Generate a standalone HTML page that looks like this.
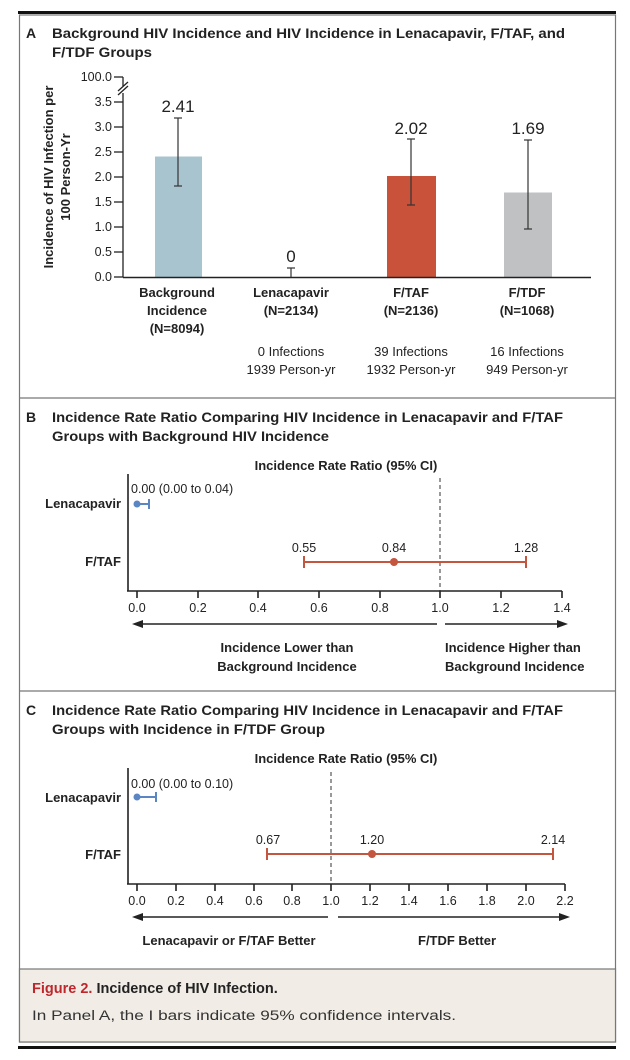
<!DOCTYPE html>
<html><head><meta charset="utf-8"><style>
html,body{margin:0;padding:0;background:#fff;}
svg{display:block;font-family:"Liberation Sans",sans-serif;}
.t{font-weight:bold;font-size:14px;fill:#222;}
.b{font-weight:bold;font-size:13px;fill:#222;}
.n{font-size:13px;fill:#222;}
.k{font-size:12.5px;fill:#222;}
</style></head><body>
<svg width="630" height="1060" viewBox="0 0 630 1060">
<rect x="18" y="11" width="598" height="3" fill="#111"/>
<rect x="19.5" y="15" width="596" height="1027" fill="none" stroke="#777" stroke-width="1.2"/>
<line x1="19" y1="398" x2="616" y2="398" stroke="#777" stroke-width="1.2"/>
<line x1="19" y1="691" x2="616" y2="691" stroke="#777" stroke-width="1.2"/>
<rect x="19.5" y="969" width="596" height="73" fill="#f1ede6" stroke="#777" stroke-width="1.2"/>
<rect x="18" y="1046" width="598" height="3" fill="#111"/>

<!-- Panel A -->
<text x="26" y="38" class="t" font-size="15">A</text>
<text x="52" y="38" class="t" textLength="513" lengthAdjust="spacingAndGlyphs">Background HIV Incidence and HIV Incidence in Lenacapavir, F/TAF, and</text>
<text x="52" y="57" class="t" textLength="100" lengthAdjust="spacingAndGlyphs">F/TDF Groups</text>
<g transform="translate(53,177) rotate(-90)"><text x="0" y="0" class="b" text-anchor="middle">Incidence of HIV Infection per</text><text x="0" y="17" class="b" text-anchor="middle">100 Person-Yr</text></g>
<g class="k" text-anchor="end">
<text x="112" y="81">100.0</text>
<text x="112" y="106">3.5</text><text x="112" y="131">3.0</text><text x="112" y="156">2.5</text><text x="112" y="181">2.0</text>
<text x="112" y="206">1.5</text><text x="112" y="231">1.0</text><text x="112" y="256">0.5</text><text x="112" y="281">0.0</text>
</g>
<g stroke="#222" stroke-width="1.3">
<line x1="114" y1="77" x2="123" y2="77"/><line x1="123" y1="77" x2="123" y2="86"/>
<line x1="123" y1="93" x2="123" y2="277"/>
<line x1="118" y1="91" x2="128" y2="82"/><line x1="118" y1="95" x2="128" y2="86"/>
<line x1="114" y1="102" x2="123" y2="102"/><line x1="114" y1="127" x2="123" y2="127"/><line x1="114" y1="152" x2="123" y2="152"/>
<line x1="114" y1="177" x2="123" y2="177"/><line x1="114" y1="202" x2="123" y2="202"/><line x1="114" y1="227" x2="123" y2="227"/>
<line x1="114" y1="252" x2="123" y2="252"/><line x1="114" y1="277" x2="123" y2="277"/>
</g>
<rect x="155" y="156.5" width="47" height="120.5" fill="#a8c4cf"/>
<rect x="387" y="176" width="49" height="101" fill="#c8523a"/>
<rect x="504" y="192.5" width="48" height="84.5" fill="#bfc1c3"/>
<line x1="123" y1="277.5" x2="591" y2="277.5" stroke="#222" stroke-width="1.6"/>
<g stroke="#333" stroke-width="1.2">
<line x1="178" y1="118" x2="178" y2="186"/><line x1="174" y1="118" x2="182" y2="118"/><line x1="174" y1="186" x2="182" y2="186"/>
<line x1="291" y1="268" x2="291" y2="277"/><line x1="287" y1="268" x2="295" y2="268"/>
<line x1="411" y1="139" x2="411" y2="205"/><line x1="407" y1="139" x2="415" y2="139"/><line x1="407" y1="205" x2="415" y2="205"/>
<line x1="528" y1="140" x2="528" y2="229"/><line x1="524" y1="140" x2="532" y2="140"/><line x1="524" y1="229" x2="532" y2="229"/>
</g>
<g font-size="17" fill="#222" text-anchor="middle">
<text x="178" y="112">2.41</text><text x="291" y="262">0</text><text x="411" y="134">2.02</text><text x="528" y="134">1.69</text>
</g>
<g class="b" text-anchor="middle">
<text x="177" y="297">Background</text><text x="177" y="315">Incidence</text><text x="177" y="333">(N=8094)</text>
<text x="291" y="297">Lenacapavir</text><text x="291" y="315">(N=2134)</text>
<text x="411" y="297">F/TAF</text><text x="411" y="315">(N=2136)</text>
<text x="527" y="297">F/TDF</text><text x="527" y="315">(N=1068)</text>
</g>
<g class="n" text-anchor="middle">
<text x="291" y="356">0 Infections</text><text x="291" y="374">1939 Person-yr</text>
<text x="411" y="356">39 Infections</text><text x="411" y="374">1932 Person-yr</text>
<text x="527" y="356">16 Infections</text><text x="527" y="374">949 Person-yr</text>
</g>

<!-- Panel B -->
<text x="26" y="422" class="t" font-size="15">B</text>
<text x="52" y="422" class="t" textLength="511" lengthAdjust="spacingAndGlyphs">Incidence Rate Ratio Comparing HIV Incidence in Lenacapavir and F/TAF</text>
<text x="52" y="441" class="t" textLength="277" lengthAdjust="spacingAndGlyphs">Groups with Background HIV Incidence</text>
<text x="346" y="470" class="b" text-anchor="middle">Incidence Rate Ratio (95% CI)</text>
<text x="121" y="508" class="b" text-anchor="end">Lenacapavir</text>
<text x="121" y="566" class="b" text-anchor="end">F/TAF</text>
<line x1="440" y1="478" x2="440" y2="591" stroke="#333" stroke-dasharray="4,3"/>
<g stroke="#222" stroke-width="1.6">
<line x1="128" y1="474" x2="128" y2="591"/><line x1="127" y1="591" x2="562" y2="591"/>
<line x1="137" y1="591" x2="137" y2="598"/><line x1="198" y1="591" x2="198" y2="598"/><line x1="258" y1="591" x2="258" y2="598"/>
<line x1="319" y1="591" x2="319" y2="598"/><line x1="380" y1="591" x2="380" y2="598"/><line x1="440" y1="591" x2="440" y2="598"/>
<line x1="501" y1="591" x2="501" y2="598"/><line x1="562" y1="591" x2="562" y2="598"/>
</g>
<g class="k" text-anchor="middle">
<text x="137" y="612">0.0</text><text x="198" y="612">0.2</text><text x="258" y="612">0.4</text><text x="319" y="612">0.6</text>
<text x="380" y="612">0.8</text><text x="440" y="612">1.0</text><text x="501" y="612">1.2</text><text x="562" y="612">1.4</text>
</g>
<text x="131" y="493" class="k">0.00 (0.00 to 0.04)</text>
<g stroke="#5b86c4" stroke-width="2"><line x1="137" y1="504" x2="149" y2="504"/><line x1="149" y1="499" x2="149" y2="509"/></g>
<circle cx="137" cy="504" r="3.5" fill="#5b86c4"/>
<g stroke="#c4553f" stroke-width="2"><line x1="304" y1="562" x2="526" y2="562"/><line x1="304" y1="556" x2="304" y2="568"/><line x1="526" y1="556" x2="526" y2="568"/></g>
<circle cx="394" cy="562" r="4" fill="#c4553f"/>
<g class="k" text-anchor="middle"><text x="304" y="552">0.55</text><text x="394" y="552">0.84</text><text x="526" y="552">1.28</text></g>
<g stroke="#222" stroke-width="1.6"><line x1="138" y1="624" x2="437" y2="624"/><line x1="445" y1="624" x2="562" y2="624"/></g>
<polygon points="132,624 143,620 143,628" fill="#222"/><polygon points="568,624 557,620 557,628" fill="#222"/>
<g class="b" text-anchor="middle"><text x="287" y="652">Incidence Lower than</text><text x="287" y="671">Background Incidence</text></g>
<g class="b"><text x="445" y="652">Incidence Higher than</text><text x="445" y="671">Background Incidence</text></g>

<!-- Panel C -->
<text x="26" y="715" class="t" font-size="15">C</text>
<text x="52" y="715" class="t" textLength="511" lengthAdjust="spacingAndGlyphs">Incidence Rate Ratio Comparing HIV Incidence in Lenacapavir and F/TAF</text>
<text x="52" y="734" class="t" textLength="273" lengthAdjust="spacingAndGlyphs">Groups with Incidence in F/TDF Group</text>
<text x="346" y="763" class="b" text-anchor="middle">Incidence Rate Ratio (95% CI)</text>
<text x="121" y="802" class="b" text-anchor="end">Lenacapavir</text>
<text x="121" y="859" class="b" text-anchor="end">F/TAF</text>
<line x1="331" y1="772" x2="331" y2="884" stroke="#333" stroke-dasharray="4,3"/>
<g stroke="#222" stroke-width="1.6">
<line x1="128" y1="768" x2="128" y2="884"/><line x1="127" y1="884" x2="565" y2="884"/>
<line x1="137" y1="884" x2="137" y2="891"/><line x1="176" y1="884" x2="176" y2="891"/><line x1="215" y1="884" x2="215" y2="891"/>
<line x1="254" y1="884" x2="254" y2="891"/><line x1="292" y1="884" x2="292" y2="891"/><line x1="331" y1="884" x2="331" y2="891"/>
<line x1="370" y1="884" x2="370" y2="891"/><line x1="409" y1="884" x2="409" y2="891"/><line x1="448" y1="884" x2="448" y2="891"/>
<line x1="487" y1="884" x2="487" y2="891"/><line x1="526" y1="884" x2="526" y2="891"/><line x1="565" y1="884" x2="565" y2="891"/>
</g>
<g class="k" text-anchor="middle">
<text x="137" y="905">0.0</text><text x="176" y="905">0.2</text><text x="215" y="905">0.4</text><text x="254" y="905">0.6</text>
<text x="292" y="905">0.8</text><text x="331" y="905">1.0</text><text x="370" y="905">1.2</text><text x="409" y="905">1.4</text>
<text x="448" y="905">1.6</text><text x="487" y="905">1.8</text><text x="526" y="905">2.0</text><text x="565" y="905">2.2</text>
</g>
<text x="131" y="788" class="k">0.00 (0.00 to 0.10)</text>
<g stroke="#5b86c4" stroke-width="2"><line x1="137" y1="797" x2="156" y2="797"/><line x1="156" y1="792" x2="156" y2="802"/></g>
<circle cx="137" cy="797" r="3.5" fill="#5b86c4"/>
<g stroke="#c4553f" stroke-width="2"><line x1="267" y1="854" x2="553" y2="854"/><line x1="267" y1="848" x2="267" y2="860"/><line x1="553" y1="848" x2="553" y2="860"/></g>
<circle cx="372" cy="854" r="4" fill="#c4553f"/>
<g class="k" text-anchor="middle"><text x="268" y="844">0.67</text><text x="372" y="844">1.20</text><text x="553" y="844">2.14</text></g>
<g stroke="#222" stroke-width="1.6"><line x1="138" y1="917" x2="328" y2="917"/><line x1="338" y1="917" x2="564" y2="917"/></g>
<polygon points="132,917 143,913 143,921" fill="#222"/><polygon points="570,917 559,913 559,921" fill="#222"/>
<g class="b" text-anchor="middle"><text x="229" y="945">Lenacapavir or F/TAF Better</text><text x="457" y="945">F/TDF Better</text></g>

<!-- Caption -->
<text x="32" y="993" font-size="14.5" font-weight="bold" fill="#c0272d">Figure 2. <tspan fill="#222">Incidence of HIV Infection.</tspan></text>
<text x="32" y="1020" font-size="13.5" fill="#333" textLength="424" lengthAdjust="spacingAndGlyphs">In Panel A, the I bars indicate 95% confidence intervals.</text>
</svg>
</body></html>
